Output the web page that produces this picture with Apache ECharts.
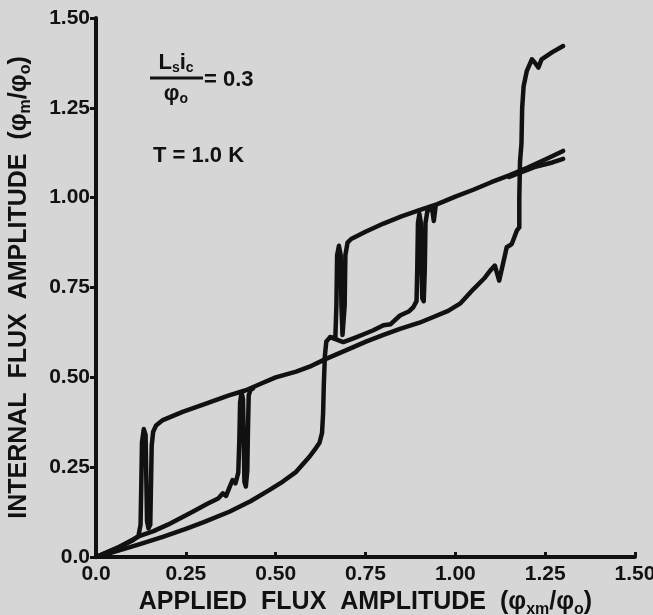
<!DOCTYPE html>
<html>
<head>
<meta charset="utf-8">
<script src="https://cdn.jsdelivr.net/npm/echarts@6/dist/echarts.min.js"></script>
<style>
html,body{margin:0;padding:0;background:#d6d6d6;}
#chart{width:653px;height:615px;}
</style>
</head>
<body>
<div id="chart"></div>
<script>
// Tick labels
const xTickLabels = ['0.0', '0.25', '0.50', '0.75', '1.00', '1.25', '1.50'];
const yTickLabels = ['0.0', '0.25', '0.50', '0.75', '1.00', '1.25', '1.50'];

// Lowest branch: origin -> jump at 0.63 -> spikes near 0.68 -> top line of second loop
const traceLowest = [
  [0,0],[0.06,0.017],[0.12,0.035],[0.186,0.056],[0.25,0.078],[0.30,0.097],[0.371,0.126],
  [0.43,0.155],[0.482,0.186],[0.52,0.21],[0.557,0.237],[0.594,0.279],[0.612,0.303],[0.622,0.318],
  [0.629,0.345],[0.632,0.40],[0.634,0.48],[0.637,0.56],[0.641,0.60],[0.652,0.612],[0.666,0.608],
  [0.669,0.70],[0.671,0.84],[0.676,0.866],[0.681,0.84],[0.683,0.70],[0.686,0.618],[0.69,0.616],
  [0.692,0.70],[0.694,0.84],[0.70,0.875],[0.71,0.885],[0.75,0.905],[0.80,0.928],[0.85,0.948],
  [0.90,0.965],[0.95,0.982],[1.0,1.003],[1.05,1.022],[1.10,1.043],[1.15,1.062],[1.20,1.083],
  [1.25,1.106],[1.30,1.13]
];

// Trace with spikes near 0.13, upper branch of first loop, jump at 1.18
const traceFirst = [
  [0,0],[0.06,0.025],[0.10,0.045],[0.118,0.058],[0.124,0.09],[0.126,0.20],[0.128,0.32],
  [0.133,0.356],[0.138,0.34],[0.14,0.22],[0.142,0.10],[0.146,0.08],[0.151,0.09],[0.153,0.20],
  [0.155,0.31],[0.159,0.348],[0.167,0.366],[0.186,0.381],[0.241,0.404],[0.306,0.427],[0.37,0.45],
  [0.417,0.464],[0.46,0.483],[0.50,0.50],[0.557,0.516],[0.60,0.532],[0.637,0.55],[0.70,0.577],
  [0.753,0.60],[0.80,0.618],[0.846,0.635],[0.90,0.652],[0.939,0.668],[0.98,0.685],[1.013,0.705],
  [1.05,0.745],[1.08,0.775],[1.097,0.797],[1.11,0.811],[1.122,0.769],[1.143,0.862],[1.157,0.871],
  [1.171,0.908],[1.178,0.917],[1.178,1.0],[1.18,1.10],[1.184,1.15],[1.186,1.25],[1.19,1.31],
  [1.199,1.353],[1.213,1.385],[1.222,1.375],[1.231,1.362],[1.24,1.385],[1.27,1.405],[1.30,1.422]
];

// Wiggly lower branch jumping near 0.41
const traceSecond = [
  [0,0],[0.06,0.026],[0.12,0.058],[0.16,0.072],[0.20,0.09],[0.269,0.126],[0.31,0.148],[0.34,0.163],
  [0.353,0.177],[0.362,0.17],[0.372,0.195],[0.38,0.214],[0.388,0.205],[0.396,0.235],[0.399,0.33],
  [0.401,0.43],[0.405,0.459],[0.409,0.44],[0.411,0.33],[0.413,0.21],[0.417,0.196],[0.421,0.24],
  [0.423,0.36],[0.425,0.45],[0.43,0.465],[0.437,0.469]
];

// Wiggly lower branch of second loop jumping near 0.90
const traceThird = [
  [0.652,0.612],[0.688,0.598],[0.72,0.61],[0.75,0.622],[0.772,0.631],[0.80,0.645],[0.82,0.648],
  [0.846,0.672],[0.87,0.683],[0.883,0.695],[0.892,0.712],[0.894,0.80],[0.896,0.93],[0.90,0.955],
  [0.904,0.93],[0.906,0.80],[0.908,0.72],[0.912,0.712],[0.915,0.80],[0.917,0.93],[0.922,0.962],
  [0.935,0.972],[0.94,0.935],[0.945,0.975]
];

// Doubled end of the top line
const traceFork = [[1.15,1.058],[1.22,1.085],[1.27,1.098],[1.30,1.108]];

const ink = '#111111';
const FONT = 'Liberation Sans';

function lineSeries(name, data) {
  return {
    name: name, type: 'line', data: data, showSymbol: false, symbol: 'none',
    smooth: false, animation: false, silent: true,
    lineStyle: { color: ink, width: 4.5, join: 'round', cap: 'round' }
  };
}

const chart = echarts.init(document.getElementById('chart'), null, { renderer: 'canvas' });
chart.setOption({
  backgroundColor: '#d6d6d6',
  animation: false,
  grid: { left: 96, right: 18, top: 18, bottom: 58, outerBoundsMode: 'none' },
  xAxis: {
    type: 'value', min: 0, max: 1.5, interval: 0.25,
    name: '{a|APPLIED  FLUX  AMPLITUDE  (φ}{s|xm}{a|/φ}{s|o}{a|)}',
    nameLocation: 'middle', nameGap: 28,
    nameTextStyle: {
      rich: {
        a: { fontFamily: FONT, fontWeight: 'bold', fontSize: 25, color: ink, lineHeight: 30 },
        s: { fontFamily: FONT, fontWeight: 'bold', fontSize: 16, color: ink, lineHeight: 16, verticalAlign: 'bottom' }
      }
    },
    axisLine: { show: true, lineStyle: { color: ink, width: 4 } },
    axisTick: { show: true, inside: true, length: 5, lineStyle: { color: ink, width: 3 } },
    splitLine: { show: false },
    axisLabel: {
      color: ink, fontFamily: FONT, fontWeight: 'bold', fontSize: 21, margin: 7,
      formatter: function (v) { return xTickLabels[Math.round(v / 0.25)]; }
    }
  },
  yAxis: {
    type: 'value', min: 0, max: 1.5, interval: 0.25,
    name: '{a|INTERNAL  FLUX  AMPLITUDE  (φ}{s|m}{a|/φ}{s|o}{a|)}',
    nameLocation: 'middle', nameGap: 62, nameRotate: 90,
    nameTextStyle: {
      rich: {
        a: { fontFamily: FONT, fontWeight: 'bold', fontSize: 25, color: ink, lineHeight: 30 },
        s: { fontFamily: FONT, fontWeight: 'bold', fontSize: 16, color: ink, lineHeight: 16, verticalAlign: 'bottom' }
      }
    },
    axisLine: { show: true, lineStyle: { color: ink, width: 4 } },
    axisTick: { show: true, inside: false, length: 6, lineStyle: { color: ink, width: 3 } },
    splitLine: { show: false },
    axisLabel: {
      color: ink, fontFamily: FONT, fontWeight: 'bold', fontSize: 21, margin: 6,
      formatter: function (v) { return yTickLabels[Math.round(v / 0.25)]; }
    }
  },
  graphic: [
    {
      type: 'text', x: 176, y: 63,
      style: {
        text: '{b|L}{s|s}{b|i}{s|c}', align: 'center', verticalAlign: 'middle',
        rich: {
          b: { fontFamily: FONT, fontWeight: 'bold', fontSize: 22, fill: ink, lineHeight: 24 },
          s: { fontFamily: FONT, fontWeight: 'bold', fontSize: 14, fill: ink, lineHeight: 14, verticalAlign: 'bottom' }
        }
      }
    },
    { type: 'line', shape: { x1: 150, y1: 78, x2: 203, y2: 78 }, style: { stroke: ink, lineWidth: 3 } },
    {
      type: 'text', x: 176, y: 94,
      style: {
        text: '{b|φ}{s|o}', align: 'center', verticalAlign: 'middle',
        rich: {
          b: { fontFamily: FONT, fontWeight: 'bold', fontSize: 22, fill: ink, lineHeight: 24 },
          s: { fontFamily: FONT, fontWeight: 'bold', fontSize: 14, fill: ink, lineHeight: 14, verticalAlign: 'bottom' }
        }
      }
    },
    {
      type: 'text', x: 204, y: 80,
      style: { text: '= 0.3', fontFamily: FONT, fontWeight: 'bold', fontSize: 22, fill: ink, align: 'left', verticalAlign: 'middle' }
    },
    {
      type: 'text', x: 153, y: 156,
      style: { text: 'T = 1.0 K', fontFamily: FONT, fontWeight: 'bold', fontSize: 22, fill: ink, align: 'left', verticalAlign: 'middle' }
    }
  ],
  series: [
    lineSeries('lowest', traceLowest),
    lineSeries('first', traceFirst),
    lineSeries('second', traceSecond),
    lineSeries('third', traceThird),
    lineSeries('fork', traceFork)
  ]
});
</script>
</body>
</html>
